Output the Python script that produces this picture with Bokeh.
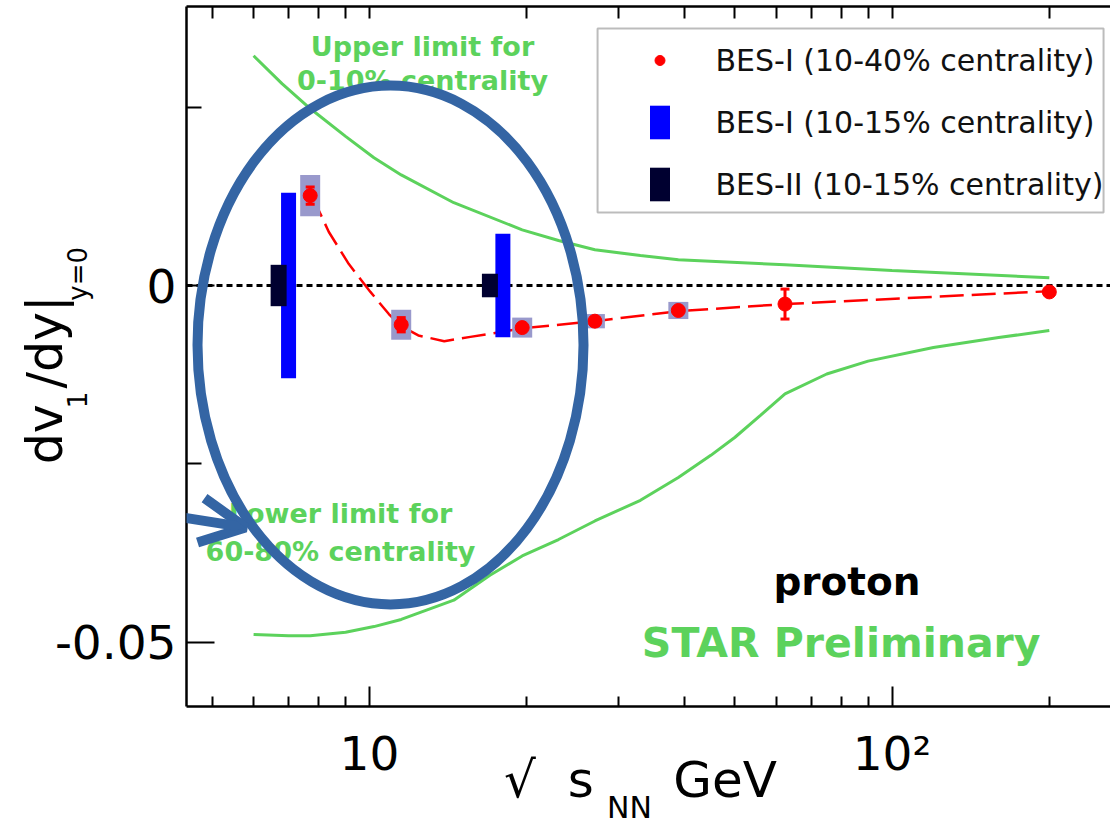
import numpy as np
from bokeh.plotting import figure
from bokeh.models import (Range1d, LogAxis, LinearAxis, FixedTicker, Span, Label, Arrow, OpenHead,
                          BoxAnnotation, Legend, LegendItem, Whisker, TeeHead, ColumnDataSource)
from bokeh.embed import file_html
from bokeh.resources import INLINE

# ---------------- data ----------------
# BES-I, 10-40% centrality: proton dv1/dy at y=0
energy = [7.7, 11.5, 19.6, 27, 39, 62.4, 200]
slope = [0.0126, -0.0055, -0.0059, -0.0050, -0.0035, -0.0026, -0.0009]
stat_err = [0.0012, 0.0010, 0.0005, 0.0004, 0.0004, 0.0021, 0.0003]
# systematic boxes
sys_energy = [7.7, 11.5, 19.6, 27, 39]
sys_slope = [0.0126, -0.0055, -0.0059, -0.0050, -0.0035]
sys_err = [0.0029, 0.0021, 0.0014, 0.0010, 0.0012]
# dashed red curve through BES-I points
fit_energy = [7.7, 8.0, 8.36, 9.13, 10.04, 10.89, 11.5, 12.4, 13.9, 15.6, 17.9, 19.6, 27, 39, 62.4, 200]
fit_slope = [0.0126, 0.0105, 0.0075, 0.0030, -0.0009, -0.0040, -0.0057, -0.0070, -0.0078,
             -0.0072, -0.0065, -0.0060, -0.0050, -0.0036, -0.0026, -0.0008]
# BES-I, 10-15% centrality (projected error range)
bes1_energy = [7.0, 18.0]
bes1_center = [0.0, 0.0]
bes1_range = [0.0260, 0.0145]
# BES-II, 10-15% centrality (projected error range)
bes2_energy = [6.7, 17.0]
bes2_center = [0.0, 0.0]
bes2_range = [0.0058, 0.0033]
# model limits
upper_energy = [6.0, 6.8, 7.7, 9.0, 10.2, 11.5, 14.5, 19.6, 23, 27, 33, 39, 62.4, 100, 200]
upper_limit = [0.0322, 0.0283, 0.0248, 0.0209, 0.0179, 0.0155, 0.0116, 0.0078, 0.0063,
               0.0050, 0.0042, 0.0036, 0.0029, 0.0021, 0.0011]
lower_energy = [6.0, 7.0, 7.7, 9.0, 10.2, 11.5, 14.5, 17, 19.6, 23, 27, 33, 39, 45, 50, 56,
                62.4, 75, 90, 120, 160, 200]
lower_limit = [-0.0489, -0.0491, -0.0491, -0.0486, -0.0478, -0.0468, -0.0441, -0.0406, -0.0379,
               -0.0356, -0.0330, -0.0301, -0.0269, -0.0238, -0.0213, -0.0182, -0.0152, -0.0124,
               -0.0106, -0.0087, -0.0073, -0.0063]

x_major = [10, 100]
x_minor = [5, 6, 7, 8, 9, 20, 30, 40, 50, 60, 70, 80, 90, 200]
x_labels = {10: "10", 100: "10\u00b2"}
y_major = [-0.05, 0.0]
y_minor = [-0.025, 0.025]
y_labels = {-0.05: "-0.05", 0.0: "0"}

legend_labels = ["BES-I (10-40% centrality)", "BES-I (10-15% centrality)", "BES-II (10-15% centrality)"]

NB = "\u00a0"  # non-breaking space used to place sub/superscript pieces of the titles
x_title = "\u221a" + NB * 2 + "s" + NB * 5 + "GeV" + NB
x_title_sub = "NN" + NB * 4
y_title = "dv" + NB + "/dy|" + NB * 3
y_title_sub = NB * 7 + "1" + NB * 11 + "y=0"

# ---------------- styles ----------------
GREEN = "#5cd25c"
ANNOT = "#3465a4"
FONT = "DejaVu Sans"

p = figure(width=1110, height=828, x_axis_type="log",
           x_range=Range1d(4.4645, 261.9), y_range=Range1d(-0.0590, 0.0391),
           output_backend="svg", toolbar_location=None,
           min_border_left=186, min_border_right=0, min_border_top=6, min_border_bottom=122)
p.grid.visible = False
p.outline_line_color = None
p.background_fill_color = "white"
p.border_fill_color = "white"


def style_title(ax, text, size, standoff):
    ax.axis_label = text
    ax.axis_label_text_font = FONT
    ax.axis_label_text_font_size = size
    ax.axis_label_text_font_style = "normal"
    ax.axis_label_text_color = "black"
    ax.axis_label_standoff = standoff


bx = p.below[0]
bx.ticker = FixedTicker(ticks=x_major, minor_ticks=x_minor)
bx.major_label_overrides = x_labels
bx.major_label_text_font = FONT
bx.major_label_text_font_size = "47px"
bx.major_label_text_color = "black"
bx.major_label_standoff = 19
bx.major_tick_in = 20
bx.major_tick_out = 0
bx.minor_tick_in = 10
bx.minor_tick_out = 0
bx.axis_line_width = 2.5
bx.major_tick_line_width = 2
bx.minor_tick_line_width = 2
style_title(bx, x_title, "50px", -33)

bx2 = LogAxis(ticker=FixedTicker(ticks=[]), axis_line_color=None, major_tick_line_color=None,
              minor_tick_line_color=None, major_label_standoff=0)
style_title(bx2, x_title_sub, "30px", -22)
p.add_layout(bx2, "below")

ly = p.left[0]
ly.ticker = FixedTicker(ticks=y_major, minor_ticks=y_minor)
ly.major_label_overrides = y_labels
ly.major_label_text_font = FONT
ly.major_label_text_font_size = "47px"
ly.major_label_text_color = "black"
ly.major_label_standoff = 10
ly.major_tick_in = 28
ly.major_tick_out = 0
ly.minor_tick_in = 15
ly.minor_tick_out = 0
ly.axis_line_width = 2.5
ly.major_tick_line_width = 2
ly.minor_tick_line_width = 2
style_title(ly, y_title_sub, "26px", -41)

ly2 = LinearAxis(ticker=FixedTicker(ticks=[]), axis_line_color=None, major_tick_line_color=None,
                 minor_tick_line_color=None, major_label_standoff=0)
style_title(ly2, y_title, "49px", -14)
p.add_layout(ly2, "left")

# top axis: tick marks only (no labels)
top = LogAxis(ticker=FixedTicker(ticks=[], minor_ticks=x_major + x_minor),
              major_tick_in=0, major_tick_out=0, minor_tick_in=12, minor_tick_out=0,
              major_label_standoff=0, axis_line_width=2.5, minor_tick_line_width=2)
p.add_layout(top, "above")

# zero line
p.add_layout(Span(location=0, dimension="width", line_color="black", line_width=3,
                  line_dash="6 4", level="underlay"))

# model limit curves
p.line(upper_energy, upper_limit, line_color=GREEN, line_width=3)
p.line(lower_energy, lower_limit, line_color=GREEN, line_width=3)

# dashed red curve
p.line(fit_energy, fit_slope, line_color="red", line_width=2.5, line_dash="24 8")

# systematic boxes
p.rect(x=sys_energy, y=sys_slope, width=20, height=[2 * e for e in sys_err],
       width_units="screen", fill_color="#9999cc", line_color=None)

# BES-I / BES-II 10-15% bars
r_blue = p.rect(x=bes1_energy, y=bes1_center, width=15, height=bes1_range,
                width_units="screen", fill_color="#0000ff", line_color=None)
r_black = p.rect(x=bes2_energy, y=bes2_center, width=16, height=bes2_range,
                 width_units="screen", fill_color="#000030", line_color=None)

# error bars + points
err_src = ColumnDataSource(dict(x=energy,
                                upper=[s + e for s, e in zip(slope, stat_err)],
                                lower=[s - e for s, e in zip(slope, stat_err)]))
p.add_layout(Whisker(source=err_src, base="x", upper="upper", lower="lower", dimension="height",
                     line_color="red", line_width=3, level="annotation",
                     upper_head=TeeHead(size=9, line_color="red", line_width=3),
                     lower_head=TeeHead(size=9, line_color="red", line_width=3)))
r_pts = p.scatter(energy, slope, marker="circle", size=14, fill_color="red", line_color="red")

# legend frame + legend
p.add_layout(BoxAnnotation(left=27.32, right=254.0, top=0.03602, bottom=0.01023,
                           fill_color="white", fill_alpha=1, line_color="#222222", line_width=2))
legend = Legend(items=[LegendItem(label=legend_labels[0], renderers=[r_pts]),
                       LegendItem(label=legend_labels[1], renderers=[r_blue]),
                       LegendItem(label=legend_labels[2], renderers=[r_black])],
                location=(460.5, 501), orientation="vertical", padding=10, spacing=20, margin=0,
                glyph_width=25, glyph_height=42, label_standoff=44,
                label_text_font=FONT, label_text_font_size="30px", label_text_color="#111111",
                background_fill_alpha=0, border_line_color=None)
p.add_layout(legend)

# text annotations inside the frame
def lab(x, y, text, size, color="black", bold=False, align="left"):
    p.add_layout(Label(x=x, y=y, text=text, text_font=FONT, text_font_size=size,
                       text_font_style="bold" if bold else "normal", text_color=color,
                       text_align=align, text_baseline="alphabetic"))

lab(12.63, 0.03350, "Upper limit for", "27px", GREEN, True, "center")
lab(12.63, 0.02873, "0-10% centrality", "27px", GREEN, True, "center")
lab(8.80, -0.03196, "Lower limit for", "27px", GREEN, True, "center")
lab(8.80, -0.03728, "60-80% centrality", "27px", GREEN, True, "center")
lab(113.4, -0.04149, "proton", "39px", "black", True, "right")
lab(192.4, -0.05004, "STAR Preliminary", "41px", GREEN, True, "right")

# hand-drawn annotation: ellipse and arrow
p.ellipse(x=[10.97], y=[-0.00834], width=386, height=519, width_units="screen",
          height_units="screen", fill_color=None, line_color=ANNOT, line_width=10, level="overlay")
p.add_layout(Arrow(x_start=1.9, y_start=-0.0283, x_end=5.79, y_end=-0.0339,
                   line_color=ANNOT, line_width=10, level="overlay",
                   end=OpenHead(size=45, line_color=ANNOT, line_width=10)))

open("out.html", "w").write(file_html(p, INLINE))
